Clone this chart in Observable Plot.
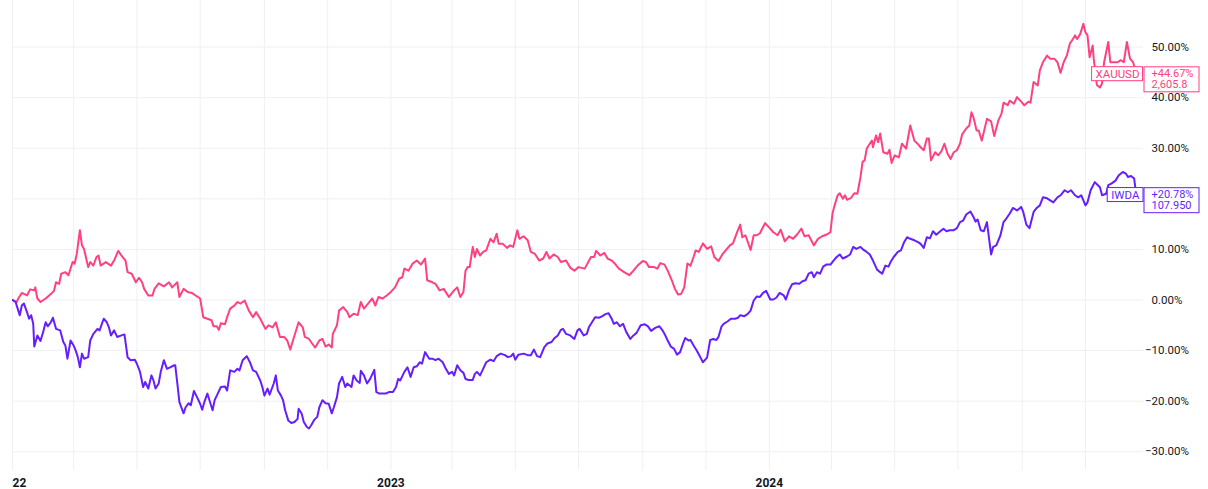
<!DOCTYPE html>
<html><head><meta charset="utf-8">
<script src="https://cdn.jsdelivr.net/npm/d3@7"></script>
<script src="https://cdn.jsdelivr.net/npm/@observablehq/plot@0.6"></script>
<style>
html,body{margin:0;padding:0;background:#fff;}
#wrap{position:absolute;left:12px;top:0;width:1196px;height:489px;overflow:hidden;}
</style></head><body><div id="wrap"></div>
<script>
// x domain (calendar) and series data: [days since 2022-01-01, % change]
const startDate = "2022-01-01";
const endDate = "2024-12-27";
const gold = [[0,0],[4,-0.4],[6,0.45],[9,1.4],[14,0.9],[17,2.1],[21,1.9],[22,2.5],[24,0.3],[27,-0.4],[32,0.3],[37,1.2],[40,1.8],[42,3.5],[45,3.2],[47,5.2],[51,5.5],[54,4.9],[58,7.5],[60,7.2],[62,9.1],[65,13.8],[67,10.8],[69,10.1],[73,6.5],[75,7.5],[78,6.8],[81,8.5],[83,8.8],[85,6.8],[90,7.5],[95,6.8],[98,7.8],[102,9.7],[105,8.8],[109,7.8],[111,5.5],[115,5.2],[119,3.5],[122,4.4],[125,3.5],[127,2.2],[131,0.9],[135,0.9],[137,2.2],[141,3.3],[146,2.7],[151,3.5],[154,2.5],[159,3.5],[161,0.6],[165,2.2],[169,1.6],[173,1.4],[178,0.7],[181,0.3],[184,-3.4],[188,-3.7],[192,-4.0],[194,-5.2],[197,-5.2],[199,-5.9],[201,-4.6],[205,-4.8],[207,-3.4],[210,-1.7],[214,-1.1],[217,-0.4],[220,-0.7],[224,-0.1],[228,-2.1],[232,-3.4],[235,-2.4],[239,-3.7],[244,-5.7],[247,-5.0],[251,-5.4],[254,-4.4],[258,-7.3],[262,-7.3],[265,-8.0],[268,-9.8],[271,-7.7],[276,-4.4],[280,-5.4],[282,-7.3],[286,-7.7],[289,-8.6],[292,-9.4],[296,-8.0],[299,-7.7],[302,-9.2],[305,-8.8],[308,-9.4],[309,-6.7],[313,-5.0],[315,-2.1],[319,-1.4],[323,-2.4],[325,-3.4],[329,-2.7],[333,-3.0],[336,-0.4],[339,-1.7],[343,-0.7],[347,0.3],[350,-1.1],[353,0.6],[357,0.3],[361,0.9],[365,1.6],[369,2.5],[373,4.2],[376,4.5],[378,6.2],[382,5.8],[386,7.2],[390,7.8],[394,7.0],[398,8.2],[400,3.9],[405,3.5],[408,3.2],[412,1.9],[416,2.2],[421,0.6],[426,1.9],[429,2.5],[432,0.6],[435,1.6],[437,5.8],[439,6.5],[441,6.5],[444,10.5],[446,8.5],[448,10.1],[451,8.8],[454,9.5],[457,9.8],[461,12.1],[464,11.4],[467,13.1],[469,11.1],[473,11.1],[477,10.3],[480,10.8],[483,10.5],[487,13.8],[489,12.1],[493,12.6],[497,11.8],[500,9.5],[504,9.1],[508,7.8],[512,8.2],[515,9.5],[518,8.2],[522,9.0],[526,8.5],[529,7.5],[534,7.8],[538,6.4],[542,5.8],[546,6.5],[552,6.2],[558,8.5],[561,8.5],[563,9.7],[567,8.8],[571,9.3],[574,8.2],[578,7.8],[581,7.2],[585,6.2],[590,5.5],[595,4.9],[599,5.8],[603,6.8],[608,7.7],[611,7.5],[614,6.5],[619,6.5],[622,6.2],[625,7.3],[629,7.0],[632,5.8],[636,3.9],[639,2.2],[642,1.1],[645,1.2],[648,2.5],[651,7.2],[654,6.8],[657,8.5],[659,9.8],[662,9.5],[666,11.2],[670,10.1],[674,10.6],[677,8.5],[681,7.7],[685,9.1],[688,9.8],[692,10.8],[695,11.2],[699,13.4],[702,14.9],[704,12.4],[707,12.8],[712,9.9],[715,12.8],[718,12.8],[721,13.2],[726,15.2],[730,14.3],[734,13.4],[738,12.8],[741,13.9],[745,11.6],[749,12.6],[753,12.1],[757,13.0],[761,14.1],[764,12.6],[768,12.8],[773,10.8],[777,12.1],[781,12.6],[786,13.0],[789,13.4],[791,17.1],[793,18.7],[796,20.7],[798,21.1],[801,20.0],[803,20.7],[805,19.8],[809,20.2],[812,21.1],[815,21.0],[818,24.3],[820,27.3],[822,27.6],[824,29.9],[826,30.6],[829,31.5],[830,30.2],[833,32.5],[835,31.2],[837,32.9],[840,29.2],[844,28.9],[846,29.7],[848,27.1],[851,28.6],[855,28.2],[858,30.9],[862,29.9],[866,34.5],[870,31.5],[873,30.9],[876,30.2],[879,29.6],[882,31.9],[884,31.9],[886,27.6],[890,29.2],[893,28.6],[896,29.4],[899,30.9],[902,28.9],[905,27.9],[908,29.2],[911,29.6],[914,30.9],[916,32.7],[920,33.9],[923,34.5],[925,37.1],[927,36.1],[930,33.5],[932,33.5],[935,31.5],[937,33.2],[940,35.8],[944,35.3],[947,32.4],[951,35.5],[954,36.8],[956,39.0],[960,38.5],[962,39.4],[966,38.8],[969,40.1],[973,39.2],[976,38.5],[980,39.2],[982,39.0],[985,43.1],[989,42.4],[991,45.4],[994,47.0],[998,48.3],[1001,47.7],[1005,47.7],[1008,47.0],[1011,44.9],[1014,47.0],[1017,48.3],[1020,50.7],[1022,51.3],[1025,52.3],[1027,51.6],[1030,52.6],[1033,54.6],[1035,52.9],[1037,52.3],[1039,48.0],[1042,50.3],[1043,47.7],[1046,42.5],[1049,42.0],[1051,42.8],[1053,47.0],[1057,51.0],[1059,47.0],[1062,47.0],[1066,47.0],[1069,47.4],[1072,47.0],[1075,51.0],[1078,47.7],[1081,47.0],[1084,44.67]];
const iwda = [[0,0],[3,-0.4],[5,-1.7],[7,-3.0],[9,-1.1],[11,-0.7],[14,-2.4],[16,-3.7],[18,-3.0],[20,-4.7],[21,-9.2],[24,-7.0],[27,-8.1],[30,-6.0],[32,-4.4],[34,-5.2],[37,-4.4],[39,-3.5],[42,-5.7],[46,-6.0],[49,-8.3],[51,-9.0],[53,-11.6],[56,-8.0],[59,-9.0],[61,-10.0],[63,-11.3],[65,-13.3],[67,-10.6],[69,-11.6],[73,-11.3],[75,-8.0],[78,-6.7],[82,-5.7],[84,-6.0],[88,-3.7],[91,-4.4],[93,-5.4],[95,-7.0],[98,-6.0],[101,-7.3],[105,-7.0],[108,-6.8],[111,-11.3],[114,-11.9],[118,-11.8],[120,-12.6],[123,-14.2],[126,-17.2],[128,-16.2],[131,-17.5],[134,-14.9],[136,-15.9],[138,-17.5],[141,-16.5],[143,-14.2],[146,-11.9],[149,-13.6],[152,-13.3],[156,-12.9],[157,-12.9],[159,-16.5],[161,-20.2],[165,-22.4],[167,-21.2],[170,-20.4],[172,-20.8],[175,-18.0],[178,-19.2],[181,-20.5],[183,-21.7],[185,-20.2],[188,-18.5],[190,-19.8],[193,-21.8],[195,-19.8],[198,-18.5],[201,-17.2],[205,-17.1],[207,-17.9],[210,-13.9],[214,-14.2],[217,-13.6],[219,-13.9],[222,-11.9],[226,-11.1],[229,-12.3],[232,-13.9],[235,-14.2],[239,-15.9],[241,-17.2],[243,-18.9],[246,-17.5],[248,-18.7],[252,-16.5],[254,-14.9],[256,-17.9],[259,-18.9],[261,-19.8],[263,-21.8],[266,-23.8],[269,-24.3],[272,-24.1],[275,-23.5],[276,-21.5],[279,-22.5],[281,-24.1],[284,-25.1],[286,-25.4],[288,-24.8],[291,-23.7],[294,-23.1],[296,-21.2],[299,-19.8],[302,-20.4],[305,-20.5],[308,-22.4],[310,-21.2],[313,-19.2],[315,-16.5],[318,-15.2],[321,-17.2],[323,-16.5],[327,-17.2],[329,-14.9],[332,-15.9],[335,-16.4],[336,-14.0],[339,-14.9],[342,-16.5],[345,-15.6],[349,-13.8],[351,-18.2],[354,-18.5],[357,-18.5],[360,-18.5],[363,-18.2],[367,-18.2],[370,-17.2],[372,-15.6],[374,-15.9],[378,-14.2],[381,-13.3],[384,-15.2],[387,-13.3],[390,-13.1],[393,-12.3],[395,-12.6],[398,-10.3],[402,-11.6],[405,-11.6],[408,-11.9],[411,-11.6],[415,-12.3],[418,-13.6],[421,-14.6],[424,-14.2],[426,-14.9],[429,-12.9],[432,-13.9],[435,-14.4],[437,-15.6],[440,-15.8],[444,-15.8],[446,-14.6],[448,-14.2],[451,-14.9],[454,-13.6],[457,-12.3],[461,-11.8],[464,-12.1],[467,-11.1],[471,-10.6],[475,-10.9],[478,-11.3],[481,-11.1],[483,-10.6],[485,-11.8],[488,-10.8],[493,-10.6],[497,-10.9],[500,-10.9],[503,-9.8],[506,-11.1],[509,-11.3],[513,-9.3],[516,-8.6],[520,-8.3],[523,-7.5],[526,-7.0],[529,-5.9],[531,-5.7],[534,-6.7],[538,-7.0],[542,-7.7],[545,-6.0],[547,-5.7],[551,-7.0],[554,-6.7],[556,-5.4],[559,-4.4],[562,-3.4],[566,-3.5],[569,-3.2],[572,-2.8],[575,-2.6],[578,-3.7],[580,-4.7],[583,-4.4],[586,-5.2],[589,-4.7],[592,-6.3],[596,-7.7],[599,-7.0],[602,-6.5],[606,-5.0],[610,-4.8],[613,-5.2],[616,-6.1],[620,-5.5],[624,-5.2],[627,-6.0],[629,-6.7],[632,-8.0],[635,-9.2],[638,-9.6],[641,-10.8],[644,-10.3],[647,-8.5],[649,-7.5],[652,-8.0],[654,-7.9],[657,-9.0],[660,-10.0],[663,-11.1],[666,-12.3],[670,-11.4],[673,-7.9],[676,-7.7],[679,-7.9],[681,-7.3],[684,-5.2],[686,-4.7],[690,-4.2],[693,-3.7],[697,-3.7],[700,-3.5],[702,-3.0],[706,-3.2],[709,-2.8],[712,-2.1],[715,-0.1],[718,0.7],[721,0.6],[724,1.4],[727,1.8],[731,0.1],[734,0.1],[737,0.5],[740,1.4],[744,0.9],[746,0.1],[749,1.9],[752,3.1],[755,3.3],[759,3.2],[762,3.7],[765,3.9],[768,5.2],[771,5.5],[773,4.5],[776,5.5],[779,5.2],[782,6.6],[785,7.0],[789,7.0],[792,7.8],[795,8.5],[798,9.0],[801,8.2],[805,8.6],[808,9.0],[811,10.5],[814,10.1],[818,10.5],[821,9.9],[824,9.5],[827,9.0],[830,7.8],[834,6.0],[837,5.5],[839,5.2],[842,6.8],[845,6.6],[847,7.5],[850,8.5],[854,9.5],[857,9.8],[860,11.4],[863,12.4],[866,12.1],[870,11.8],[874,11.4],[876,11.1],[879,10.3],[882,12.4],[885,12.2],[888,13.6],[891,12.9],[895,13.6],[898,14.1],[901,13.6],[904,13.8],[908,13.8],[911,14.2],[914,15.4],[917,15.7],[920,16.9],[924,17.5],[927,16.4],[929,15.5],[931,15.9],[934,13.8],[937,13.6],[940,15.4],[944,9.0],[946,10.5],[949,10.8],[953,12.8],[956,15.4],[959,16.2],[962,17.1],[965,18.2],[969,17.7],[973,18.4],[975,17.4],[978,14.9],[981,14.2],[985,17.4],[988,18.2],[991,18.7],[994,20.3],[998,20.1],[1001,19.7],[1004,19.3],[1008,20.3],[1011,20.7],[1015,21.7],[1018,21.3],[1021,21.7],[1025,20.7],[1028,20.3],[1031,20.7],[1035,18.7],[1037,19.3],[1040,21.7],[1044,23.3],[1047,22.7],[1049,22.3],[1051,20.7],[1055,21.0],[1057,22.7],[1060,23.0],[1064,23.6],[1067,24.6],[1071,25.3],[1074,25.0],[1076,24.3],[1079,24.5],[1082,24.0],[1084,20.78]];

const names = ["XAUUSD", "IWDA"];
const colors = ["#FF4081", "#651FFF"];
const lastPct = [44.67, 20.78];
const lastPrice = ["2,605.8", "107.950"];
const yTicks = [-30, -20, -10, 0, 10, 20, 30, 40, 50];
const yLabelTicks = [-30, -20, -10, 0, 10, 30, 40, 50]; // 20% label sits under the IWDA price box
const yearTicks = ["2022-01-01", "2023-01-01", "2024-01-01"];

const t0 = new Date(startDate).getTime();
const toDate = d => new Date(t0 + d * 864e5);
const rows = [
  ...gold.map(([d, v]) => ({date: toDate(d), pct: v, s: names[0]})),
  ...iwda.map(([d, v]) => ({date: toDate(d), pct: v, s: names[1]}))
];
const last = names.map((n, i) => ({s: n, pct: lastPct[i],
  label: (lastPct[i] >= 0 ? "+" : "−") + Math.abs(lastPct[i]).toFixed(2) + "%\n" + lastPrice[i]}));
const fmt = v => (v < 0 ? "−" : "") + Math.abs(v).toFixed(2) + "%";

const FONT = "Roboto, 'Noto Sans', sans-serif";
const chart = Plot.plot({
  width: 1196, height: 489,
  marginLeft: 0, marginRight: 65, marginTop: 0, marginBottom: 19,
  style: {fontFamily: FONT, fontSize: "11.5px", color: "#131722", background: "#fff", overflow: "hidden"},
  x: {type: "utc", domain: [new Date(startDate), new Date(endDate)], label: null},
  y: {domain: [-33.7, 59.2], label: null},
  color: {domain: names, range: colors},
  marks: [
    Plot.gridX({ticks: d3.utcMonth.every(2), stroke: "#eff0f3", strokeOpacity: 1}),
    Plot.gridY({ticks: yTicks, stroke: "#eff0f3", strokeOpacity: 1}),
    Plot.line(rows, {x: "date", y: "pct", z: "s", stroke: "s", strokeWidth: 2, strokeLinejoin: "round"}),
    Plot.axisX({ticks: yearTicks.map(d => new Date(d)), tickFormat: d3.utcFormat("%Y"), tickSize: 0, tickPadding: 8, fontWeight: "bold", fontSize: 12, fill: "#131722", label: null}),
    Plot.axisY({anchor: "right", ticks: yLabelTicks.filter(v => v >= 0), tickFormat: fmt, tickSize: 0, tickPadding: 8, textAnchor: "start", fill: "#131722", label: null}),
    Plot.axisY({anchor: "right", ticks: yLabelTicks.filter(v => v < 0), tickFormat: fmt, tickSize: 0, tickPadding: 1.5, textAnchor: "start", fill: "#131722", label: null}),
    Plot.text(last, {y: "pct", text: "s", fill: "s", frameAnchor: "right", textAnchor: "end", dx: -4, fontSize: 11.5, className: "namelab"}),
    Plot.text(last, {y: "pct", text: "label", fill: "s", frameAnchor: "right", textAnchor: "start", dx: 8, dy: -4.5, lineAnchor: "top", lineHeight: 1.0, fontSize: 11, className: "pricelab"})
  ]
});
document.getElementById("wrap").append(chart);

// white label boxes with coloured borders behind the end labels
function boxes(cls, padL, padR, padT, padB, minW) {
  d3.select(chart).selectAll("g." + cls + " text").each(function() {
    const b = this.getBBox();
    const col = this.getAttribute("fill");
    const w = Math.max(b.width + padL + padR, minW || 0);
    const r = document.createElementNS("http://www.w3.org/2000/svg", "rect");
    r.setAttribute("x", b.x - padL);
    r.setAttribute("y", b.y - padT);
    r.setAttribute("width", w);
    r.setAttribute("height", b.height + padT + padB);
    r.setAttribute("fill", "#fff");
    r.setAttribute("stroke", col);
    r.setAttribute("stroke-width", 1);
    const tr = this.getAttribute("transform");
    if (tr) r.setAttribute("transform", tr);
    this.parentNode.insertBefore(r, this);
  });
}
boxes("namelab", 4, 3, 0, 0);
boxes("pricelab", 7.5, 3, 0.5, 0.5, 55);
</script></body></html>
